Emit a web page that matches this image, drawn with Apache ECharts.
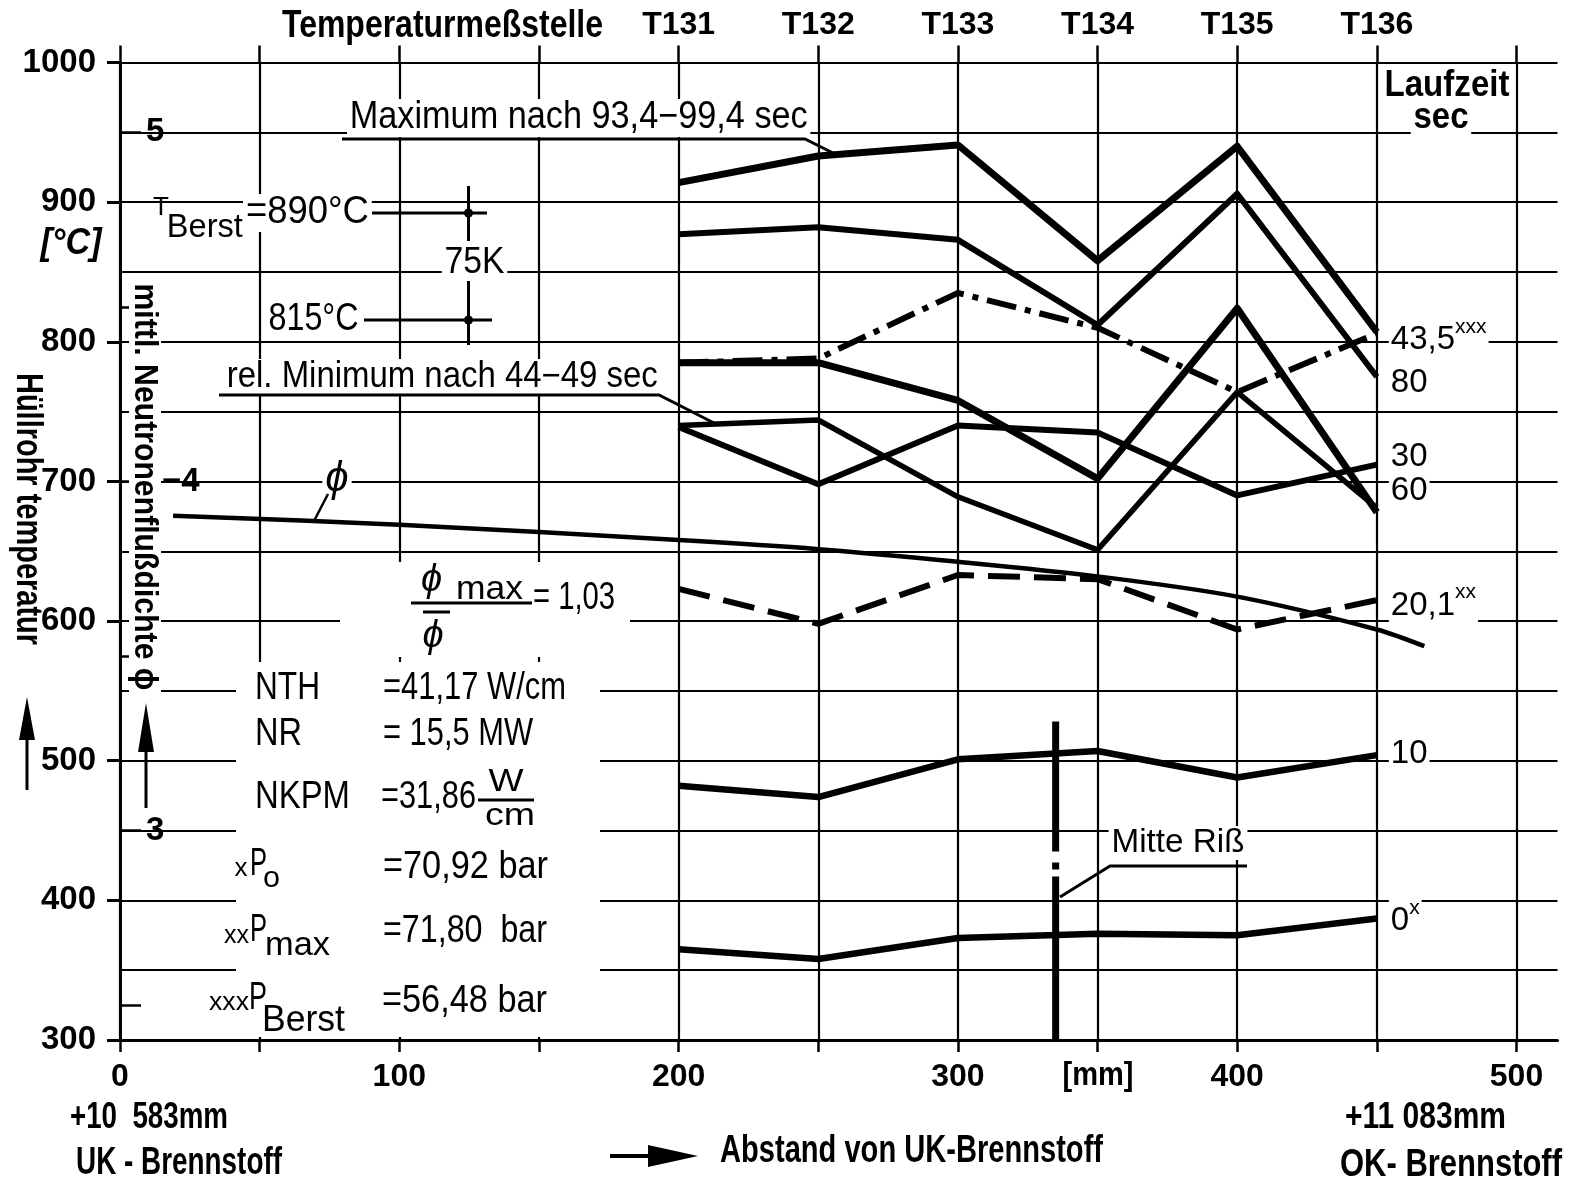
<!DOCTYPE html>
<html><head><meta charset="utf-8">
<script src="https://cdn.jsdelivr.net/npm/echarts@6/dist/echarts.min.js"></script>
<style>html,body{margin:0;padding:0;background:#fff}#c{width:1580px;height:1185px}</style>
</head><body><div id="c"></div>
<script>
// ---------------- data ----------------
const stationPos   = [200, 250, 300, 350, 400, 450];
const stationNames = ['T131', 'T132', 'T133', 'T134', 'T135', 'T136'];
const xTickLabels  = [0, 100, 200, 300, 400, 500];
const yTickLabels  = [300, 400, 500, 600, 700, 800, 900, 1000];
const tMaximum = [914, 933, 941, 858, 940, 807];   // Maximum nach 93,4-99,4 sec
const t80      = [877, 882, 873, 812, 906, 775];
const t43_5    = [785, 788, 835, 810, 764, 806];   // xxx (Berst)
const t60      = [785, 785, 758, 702, 824, 678];
const tRelMin  = [740, 744, 689, 651, 764, 681];   // rel. Minimum nach 44-49 sec
const t30      = [739, 698, 740, 735, 690, 712];
const t20_1    = [623, 598, 633, 630, 594, 615];   // xx (Pmax)
const t10      = [482, 474, 501, 507, 488, 504];
const t0       = [365, 358, 373, 376, 375, 387];   // x (P0)
const phiPos   = [19, 100, 200, 250, 300, 350, 400, 450, 467];
const phiVals  = [3.902, 3.876, 3.832, 3.806, 3.770, 3.728, 3.670, 3.576, 3.528];
const phiTickValues  = [2.5, 3, 3.5, 4, 4.5, 5];
const phiLabelValues = [3, 4, 5];
const crackPos = 335, crackTop = 528;               // Mitte Riss

// ---------------- styles ----------------
const FA = '"Liberation Sans",Arial,sans-serif';
const K = '#000';
const mctx = document.createElement('canvas').getContext('2d');

function lineSeries(vals, width, type, label) {
  const s = {
    type: 'line', xAxisIndex: 0, yAxisIndex: 0, silent: true, z: 3,
    data: stationPos.map((x, i) => [x, vals[i]]),
    symbol: 'none',
    lineStyle: { color: K, width: width, type: type || 'solid', cap: 'butt', join: 'round' }
  };
  if (label) s.endLabel = label;
  return s;
}
function endLab(main, sup, dy) {
  return {
    show: true, distance: 12, offset: [0, dy],
    formatter: sup ? '{n|' + main + '}{s|' + sup + '}' : '{n|' + main + '}',
    backgroundColor: '#fff', padding: [0, 2],
    rich: {
      n: { fontFamily: FA, fontSize: 33, color: K, lineHeight: 40, verticalAlign: 'bottom' },
      s: { fontFamily: FA, fontSize: 21, color: K, lineHeight: 22, verticalAlign: 'top' }
    }
  };
}
// text with optional target width (horizontal compression like the condensed lettering)
function txt(text, x, y, size, o) {
  o = o || {};
  const font = (o.italic ? 'italic ' : '') + (o.bold ? 'bold ' : '') + size + 'px ' + FA;
  let sx = 1;
  if (o.w) { mctx.font = font; const mw = mctx.measureText(text).width; if (mw > 0) sx = o.w / mw; }
  const st = { text: text, fill: K, font: font, align: o.align || 'left', verticalAlign: 'middle',
               textAlign: o.align || 'left', textVerticalAlign: 'middle' };
  if (o.bg !== false) { st.backgroundColor = '#fff'; st.padding = [0, 3]; }
  return { type: 'text', x: x, y: y, z: 50, rotation: o.rot || 0, scaleX: sx, scaleY: 1, silent: true, style: st };
}
function ln(x1, y1, x2, y2, w) {
  return { type: 'line', z: 51, silent: true, shape: { x1, y1, x2, y2 }, style: { stroke: K, lineWidth: w || 3 } };
}
function pl(points, w) {
  return { type: 'polyline', z: 51, silent: true, shape: { points }, style: { stroke: K, lineWidth: w || 3, fill: null } };
}
function tri(points) {
  return { type: 'polygon', z: 51, silent: true, shape: { points }, style: { fill: K } };
}
function dot(cx, cy, r) {
  return { type: 'circle', z: 52, silent: true, shape: { cx, cy, r }, style: { fill: K } };
}
function rect(x, y, w, h) {
  return { type: 'rect', z: 40, silent: true, shape: { x, y, width: w, height: h }, style: { fill: '#fff' } };
}

const L = 120, R = 1516.5, T = 62.5, B = 1040;
const chart = echarts.init(document.getElementById('c'), null, { renderer: 'canvas', width: 1580, height: 1185 });

const gridLine = { show: true, lineStyle: { color: K, width: 2.2 } };
const axisFont = { color: K, fontFamily: FA, fontWeight: 'bold', fontSize: 32 };
const option = {
  animation: false,
  backgroundColor: '#fff',
  grid: [
    { left: L, top: T, width: R - L, height: B - T },
    { left: R, top: T, width: 41, height: B - T }
  ],
  xAxis: [
    { gridIndex: 0, type: 'value', position: 'bottom', min: 0, max: 500, interval: 50,
      axisLine: { show: true, onZero: false, lineStyle: { color: K, width: 3 } },
      axisTick: { show: true, length: 12, lineStyle: { color: K, width: 2.5 } },
      axisLabel: Object.assign({ margin: 21, formatter: v => xTickLabels.indexOf(v) >= 0 ? String(v) : '' }, axisFont),
      splitLine: gridLine },
    { gridIndex: 0, type: 'value', position: 'top', min: 0, max: 500, interval: 50,
      axisLine: { show: false },
      axisTick: { show: true, length: 17, lineStyle: { color: K, width: 2.5 } },
      axisLabel: Object.assign({ margin: 21,
                   formatter: v => { const i = stationPos.indexOf(v); return i >= 0 ? stationNames[i] : ''; } }, axisFont),
      splitLine: { show: false } },
    { gridIndex: 1, type: 'value', position: 'bottom', min: 0, max: 1,
      axisLine: { show: true, onZero: false, lineStyle: { color: K, width: 3 } },
      axisTick: { show: false }, axisLabel: { show: false }, splitLine: { show: false } }
  ],
  yAxis: [
    { gridIndex: 0, type: 'value', position: 'left', min: 300, max: 1000, interval: 50,
      axisLine: { show: true, onZero: false, lineStyle: { color: K, width: 3 } },
      axisTick: { show: false },
      axisLabel: Object.assign({ margin: 24, formatter: v => yTickLabels.indexOf(v) >= 0 ? String(v) : '' }, axisFont, { fontSize: 33 }),
      splitLine: gridLine },
    { gridIndex: 0, type: 'value', position: 'left', min: 2.4, max: 5.2, interval: 0.1,
      axisLine: { show: false },
      axisTick: { show: true, inside: true, length: 21, customValues: phiTickValues, lineStyle: { color: K, width: 2.5 } },
      axisLabel: { show: true, inside: true, margin: 26, customValues: phiLabelValues, color: K,
                   fontFamily: FA, fontWeight: 'bold', fontSize: 33,
                   formatter: v => {
                     const r = Math.round(v);
                     if (Math.abs(v - r) > 1e-6 || phiLabelValues.indexOf(r) < 0) return '';
                     return r === 4 ? '{d|\u22124}' : '{a|' + r + '}';
                   },
                   rich: { a: { fontFamily: FA, fontWeight: 'bold', fontSize: 33, color: K },
                           d: { fontFamily: FA, fontWeight: 'bold', fontSize: 33, color: K, padding: [0, 0, 0, 16] } } },
      splitLine: { show: false } },
    { gridIndex: 0, type: 'value', position: 'left', min: 300, max: 1000, interval: 100,
      axisLine: { show: false },
      axisTick: { show: true, length: 13, lineStyle: { color: K, width: 3 } },
      axisLabel: { show: false }, splitLine: { show: false } },
    { gridIndex: 1, type: 'value', position: 'left', min: 300, max: 1000, interval: 50,
      axisLine: { show: false }, axisTick: { show: false }, axisLabel: { show: false },
      splitLine: gridLine }
  ],
  series: [
    lineSeries(tMaximum, 7),
    lineSeries(t80, 6, 'solid', endLab('80', '', 3)),
    lineSeries(t43_5, 6, [30, 9, 6, 9], endLab('43,5', 'xxx', 3)),
    lineSeries(t60, 7, 'solid', endLab('60', '', -25)),
    lineSeries(tRelMin, 5.5),
    lineSeries(t30, 6, 'solid', endLab('30', '', -11)),
    lineSeries(t20_1, 6, [32, 14], endLab('20,1', 'xx', 2)),
    lineSeries(t10, 6.5, 'solid', endLab('10', '', -5)),
    lineSeries(t0, 6.5, 'solid', endLab('0', 'x', -1)),
    { type: 'line', xAxisIndex: 0, yAxisIndex: 1, silent: true, z: 3, symbol: 'none', smooth: 0.3,
      data: phiPos.map((x, i) => [x, phiVals[i]]),
      lineStyle: { color: K, width: 4.5 } },
    { type: 'line', xAxisIndex: 0, yAxisIndex: 0, silent: true, z: 4, symbol: 'none',
      data: [[crackPos, crackTop], [crackPos, 300]],
      lineStyle: { color: K, width: 7, type: [130, 11, 7, 7, 400], cap: 'butt' } }
  ],
  graphic: [
    // white gaps behind text blocks
    rect(340, 562, 290, 95),
    rect(236, 662, 364, 375),
    rect(129, 283, 32, 410),
    // top
    txt('Temperaturmeßstelle', 282, 27, 38, { bold: true, w: 321, bg: false }),
    // left axis titles
    txt('[°C]', 71, 244, 36, { align: 'center', italic: true, bold: true, w: 61, bg: false }),
    txt('Hüllrohr temperatur', 27, 509, 36, { align: 'center', rot: -Math.PI / 2, bold: true, w: 272, bg: false }),
    ln(27, 790, 27, 735, 3), tri([[19, 740], [35, 740], [27, 697]]),
    txt('mittl. Neutronenflußdichte ϕ', 144, 487, 34, { align: 'center', rot: -Math.PI / 2, bold: true, w: 407, bg: false }),
    ln(146, 808, 146, 748, 3), tri([[138, 752], [154, 752], [146, 703]]),
    // T Berst block
    txt('T', 161, 208, 26, { align: 'center', bg: false }),
    txt('Berst', 164, 228, 34, { w: 76 }),
    txt('=890°C', 243, 213, 38, { w: 123 }),
    ln(372, 213, 487, 213, 3), ln(468.5, 186, 468.5, 241, 3), dot(468.5, 213, 4.5),
    txt('75K', 474.5, 263, 36, { align: 'center', w: 60 }),
    ln(468.5, 281, 468.5, 345, 3),
    txt('815°C', 266, 320, 38, { w: 90 }),
    ln(364, 320, 492, 320, 3), dot(468.5, 320, 4.5),
    // Maximum / rel. Minimum
    txt('Maximum nach 93,4\u221299,4 sec', 347, 118, 38, { w: 458 }),
    pl([[342, 139], [805, 139], [835, 154]], 3),
    txt('rel. Minimum nach 44\u221249 sec', 224, 377, 36, { w: 431 }),
    pl([[219, 395], [659, 395], [716, 424]], 3),
    // phi label
    txt('ϕ', 337, 479, 42, { align: 'center', italic: true }),
    ln(328, 494, 314, 521, 2.5),
    // fraction
    txt('ϕ', 431.5, 580, 38, { align: 'center', italic: true, bg: false }),
    txt('max', 456, 590, 34, { w: 67, bg: false }),
    ln(411, 603, 532, 603, 3),
    txt('= 1,03', 533, 599, 38, { w: 82, bg: false }),
    txt('ϕ', 433, 636, 38, { align: 'center', italic: true, bg: false }),
    ln(423, 612, 450, 612, 3),
    // parameter block
    txt('NTH', 255, 689, 38, { w: 65, bg: false }), txt('=41,17 W/cm', 383, 689, 38, { w: 183, bg: false }),
    txt('NR', 255, 735, 38, { w: 47, bg: false }), txt('= 15,5 MW', 383, 735, 38, { w: 150, bg: false }),
    txt('NKPM', 255, 798, 38, { w: 95, bg: false }), txt('=31,86', 381, 798, 38, { w: 95, bg: false }),
    txt('W', 506, 782, 32, { align: 'center', w: 35, bg: false }), ln(478, 800, 534, 800, 3),
    txt('cm', 510, 816, 32, { align: 'center', w: 50, bg: false }),
    txt('x', 241, 869, 26, { align: 'center', bg: false }),
    txt('P', 250, 865, 38, { w: 17, bg: false }), txt('o', 271.5, 879, 30, { align: 'center', w: 17, bg: false }),
    txt('=70,92 bar', 383, 868, 38, { w: 165, bg: false }),
    txt('xx', 249, 936, 26, { align: 'right', w: 25, bg: false }),
    txt('P', 250, 931, 38, { w: 17, bg: false }), txt('max', 265, 946, 34, { w: 65, bg: false }),
    txt('=71,80  bar', 383, 932, 38, { w: 164, bg: false }),
    txt('xxx', 249, 1003, 26, { align: 'right', w: 40, bg: false }),
    txt('P', 249, 999, 38, { w: 18, bg: false }), txt('Berst', 262, 1021, 36, { w: 83, bg: false }),
    txt('=56,48 bar', 382, 1002, 38, { w: 165, bg: false }),
    // right header
    txt('Laufzeit', 1447, 86, 36, { align: 'center', bold: true, w: 125 }),
    txt('sec', 1441, 118, 36, { align: 'center', bold: true, w: 55 }),
    // Mitte Riss
    txt('Mitte Riß', 1178, 843, 34, { align: 'center', w: 133 }),
    pl([[1060, 897], [1110, 866], [1247, 866]], 3),
    // bottom
    txt('[mm]', 1098, 1076, 34, { align: 'center', bold: true, w: 71, bg: false }),
    txt('+10  583mm', 70, 1118, 36, { bold: true, w: 158, bg: false }),
    txt('UK - Brennstoff', 76, 1164, 38, { bold: true, w: 206, bg: false }),
    ln(610, 1156, 652, 1156, 4), tri([[648, 1145], [648, 1167], [698, 1156]]),
    txt('Abstand von UK-Brennstoff', 720, 1152, 38, { bold: true, w: 383, bg: false }),
    txt('+11 083mm', 1345, 1118, 36, { bold: true, w: 161, bg: false }),
    txt('OK- Brennstoff', 1340, 1166, 38, { bold: true, w: 222, bg: false })
  ]
};
chart.setOption(option);
</script>
</body></html>
